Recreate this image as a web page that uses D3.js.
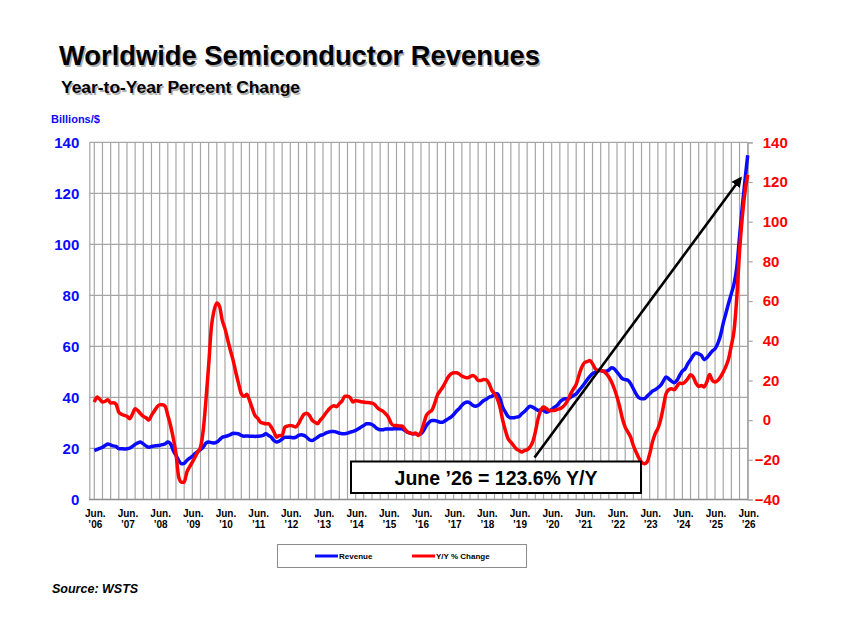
<!DOCTYPE html>
<html>
<head>
<meta charset="utf-8">
<script src="https://cdn.jsdelivr.net/npm/d3@7"></script>
<style>
  body { margin: 0; background: #fff; }
  svg { display: block; font-family: "Liberation Sans", Arial, sans-serif; }
</style>
</head>
<body>
<div id="chart"></div>
<script>
// Monthly series, Jun 2006 .. Jun 2026 (241 months)
const revenue = [
  19.2, 19.6, 20.0, 20.5, 21.2, 21.8, 21.4, 21.0, 20.8, 19.9, 19.9, 19.8,
  19.9, 20.1, 20.8, 21.6, 22.2, 22.5, 21.8, 21.0, 20.5, 20.8, 21.0, 21.1,
  21.2, 21.5, 21.8, 22.5, 21.8, 19.2, 17.3, 15.3, 14.0, 14.2, 15.3, 16.2,
  16.9, 18.0, 18.8, 19.5, 20.5, 22.1, 22.5, 22.3, 22.1, 22.5, 23.4, 24.4,
  24.7, 25.0, 25.4, 26.0, 25.9, 25.7, 25.1, 24.8, 24.9, 24.8, 24.8, 24.7,
  24.8, 24.9, 25.1, 25.8, 25.1, 24.4, 23.1, 22.5, 22.9, 23.7, 24.4, 24.4,
  24.4, 24.2, 24.4, 25.1, 25.4, 25.1, 24.4, 23.4, 23.1, 23.7, 24.4, 25.1,
  25.4, 26.0, 26.4, 26.7, 26.7, 26.4, 26.0, 25.8, 25.8, 26.0, 26.4, 26.7,
  27.1, 27.7, 28.4, 29.0, 29.7, 29.7, 29.4, 28.6, 27.7, 27.3, 27.3, 27.6,
  27.6, 27.6, 27.7, 27.7, 27.7, 27.7, 27.1, 26.4, 26.0, 25.8, 25.8, 25.5,
  25.8, 27.1, 29.0, 30.3, 31.0, 31.0, 30.7, 30.3, 30.3, 31.0, 31.6, 32.3,
  33.3, 34.6, 35.6, 36.9, 37.8, 38.2, 37.8, 36.9, 36.5, 36.9, 37.8, 38.8,
  39.3, 40.1, 40.4, 41.4, 41.4, 39.5, 36.2, 34.2, 32.5, 32.0, 32.0, 32.3,
  32.5, 33.6, 34.5, 35.6, 36.5, 36.2, 35.6, 34.9, 35.2, 34.9, 34.2, 34.6,
  35.3, 36.2, 36.9, 38.2, 39.1, 39.5, 39.5, 40.1, 40.8, 41.4, 42.7, 44.0,
  45.4, 46.9, 48.2, 49.3, 49.9, 50.6, 50.6, 50.3, 50.3, 50.8, 51.6, 51.2,
  49.9, 48.6, 47.3, 47.0, 46.7, 45.4, 43.4, 41.4, 39.9, 39.5, 39.5, 40.4,
  41.4, 42.5, 43.0, 43.8, 44.7, 46.4, 48.0, 47.3, 46.4, 45.8, 46.7, 48.6,
  50.3, 51.2, 53.2, 54.8, 56.5, 57.4, 57.1, 56.5, 54.8, 55.6, 56.9, 58.2,
  59.1, 61.1, 64.3, 69.0, 73.0, 77.0, 80.7, 84.6, 91.1, 102.9, 114.6, 125.1,
  134.9
];

const yoyChange = [
  9.1, 11.6, 10.5, 9.1, 9.5, 10.3, 8.6, 8.8, 8.0, 4.0, 3.0, 2.4,
  1.9, 0.7, 3.0, 5.7, 4.8, 3.2, 1.9, 1.2, 0.0, 2.4, 4.5, 6.6,
  7.8, 7.8, 7.0, 2.4, -2.7, -9.0, -17.0, -28.7, -31.3, -31.3, -26.2, -23.5,
  -21.2, -18.7, -16.0, -13.6, -5.2, 9.9, 27.6, 46.9, 55.3, 59.0, 57.3, 50.3,
  46.1, 40.5, 35.1, 30.1, 24.0, 18.4, 13.3, 12.0, 13.0, 10.0, 6.0, 2.4,
  1.0, -1.0, -1.5, -1.8, -1.8, -3.5, -6.0, -8.6, -7.7, -7.7, -3.5, -3.0,
  -2.7, -3.0, -3.5, -1.8, 0.7, 2.9, 3.5, 2.4, 0.0, -1.0, -1.8, 0.0,
  1.5, 3.5, 5.2, 6.6, 7.3, 6.8, 8.3, 9.6, 12.0, 12.0, 11.3, 9.1,
  9.9, 9.6, 9.3, 9.1, 8.9, 8.8, 8.6, 7.9, 6.2, 5.2, 4.5, 3.2,
  1.5, -1.5, -2.7, -2.7, -3.0, -3.0, -4.4, -6.0, -6.5, -6.9, -6.5, -7.7,
  -6.0, -1.8, 2.4, 4.0, 5.0, 8.3, 12.5, 14.7, 16.7, 19.2, 21.7, 23.3,
  23.9, 23.9, 23.3, 22.2, 21.7, 21.3, 21.9, 22.5, 21.7, 20.0, 20.0, 20.5,
  20.3, 18.4, 15.0, 13.3, 10.8, 6.6, 0.0, -5.2, -9.4, -11.1, -12.8, -14.5,
  -15.3, -16.1, -15.3, -14.9, -13.6, -11.1, -6.0, 0.7, 4.9, 6.6, 5.8, 4.9,
  4.9, 4.9, 5.4, 5.8, 6.6, 8.0, 10.3, 13.3, 15.7, 18.0, 22.5, 26.5,
  28.9, 29.5, 30.0, 28.4, 25.9, 25.0, 25.0, 24.7, 23.4, 21.7, 19.2, 15.8,
  11.6, 6.6, 0.7, -3.5, -6.0, -8.6, -12.8, -16.1, -19.0, -21.2, -22.0, -21.2,
  -17.0, -11.1, -6.9, -4.3, 0.0, 6.6, 13.3, 15.3, 15.8, 15.3, 17.0, 18.7,
  18.4, 19.2, 20.9, 22.9, 21.7, 18.7, 17.0, 17.5, 16.7, 19.2, 23.0, 20.0,
  19.2, 20.0, 21.7, 24.2, 27.1, 31.0, 37.7, 45.2, 62.0, 85.0, 102.0, 115.0,
  123.6
];

// X tick labels (one per June)
const yearLabels = ["’06", "’07", "’08", "’09", "’10", "’11", "’12", "’13", "’14", "’15", "’16",
                    "’17", "’18", "’19", "’20", "’21", "’22", "’23", "’24", "’25", "’26"];
const leftTicks = [0, 20, 40, 60, 80, 100, 120, 140];
const rightTicks = [-40, -20, 0, 20, 40, 60, 80, 100, 120, 140];
const seriesNames = ["Revenue", "Y/Y % Change"];
const calloutText = "June ’26 = 123.6% Y/Y";
// arrow from / to in [month index, Y/Y %]
const arrowFrom = [161.7, -18.8];
const arrowTo = [237.4, 121.9];

const W = 864, H = 641;
const blue = "#0a0aff", red = "#ff0000", grid = "#a6a6a6";

const svg = d3.select("#chart").append("svg")
  .attr("width", W).attr("height", H);

// Scales
const x = d3.scaleLinear().domain([0, revenue.length - 1]).range([94.3, 747.7]);
const yL = d3.scaleLinear().domain([0, 140]).range([499.5, 142.3]);
const yR = d3.scaleLinear().domain([-40, 140]).range([499.5, 142.3]);
const axisLeftX = 89.3, axisRightX = 747.7;

// Title block with soft shadow
function titleText(txt, xPos, yPos, size, len) {
  svg.append("text").attr("x", xPos + 1.5).attr("y", yPos + 1.5)
    .attr("font-size", size).attr("font-weight", "bold").attr("fill", "#b0b0b0")
    .attr("textLength", len).attr("lengthAdjust", "spacingAndGlyphs").text(txt);
  svg.append("text").attr("x", xPos).attr("y", yPos)
    .attr("font-size", size).attr("font-weight", "bold").attr("fill", "#000")
    .attr("textLength", len).attr("lengthAdjust", "spacingAndGlyphs").text(txt);
}
titleText("Worldwide Semiconductor Revenues", 59, 65, 28, 481);
titleText("Year-to-Year Percent Change", 61, 93, 16, 239);

svg.append("text").attr("x", 51).attr("y", 123)
  .attr("font-size", 11).attr("font-weight", "bold").attr("fill", blue)
  .text("Billions/$");

// Horizontal gridlines (left axis values)
svg.append("g").selectAll("line").data(leftTicks).join("line")
  .attr("x1", axisLeftX).attr("x2", axisRightX)
  .attr("y1", d => yL(d)).attr("y2", d => yL(d))
  .attr("stroke", grid).attr("stroke-width", 1.2);

// Vertical gridlines every quarter
svg.append("g").selectAll("line").data(d3.range(0, revenue.length, 3)).join("line")
  .attr("x1", d => x(d)).attr("x2", d => x(d))
  .attr("y1", yL(140)).attr("y2", yL(0))
  .attr("stroke", grid).attr("stroke-width", 1.2);

// Left axis
const gL = svg.append("g").attr("transform", `translate(${axisLeftX},0)`)
  .call(d3.axisLeft(yL).tickValues(leftTicks).tickSize(0).tickPadding(10));
gL.select(".domain").attr("stroke", grid).attr("stroke-width", 1.2);
gL.selectAll("text").attr("fill", blue).attr("font-size", 15).attr("font-weight", "bold")
  .attr("font-family", "Liberation Sans, Arial, sans-serif");

// Right axis
const gR = svg.append("g").attr("transform", `translate(${axisRightX},0)`)
  .call(d3.axisRight(yR).tickValues(rightTicks).tickSize(5).tickPadding(10));
gR.select(".domain").attr("stroke", grid).attr("stroke-width", 1.2);
gR.selectAll(".tick line").attr("stroke", grid).attr("stroke-width", 1.2);
gR.selectAll("text").attr("fill", red).attr("font-size", 15).attr("font-weight", "bold")
  .attr("font-family", "Liberation Sans, Arial, sans-serif")
  .attr("dx", d => d < 0 ? -8 : 0);

// Bottom axis line
svg.append("line").attr("x1", axisLeftX).attr("x2", axisRightX)
  .attr("y1", yL(0)).attr("y2", yL(0)).attr("stroke", "#8c8c8c").attr("stroke-width", 1.5);

// X tick labels (two lines)
const xl = svg.append("g").selectAll("g").data(yearLabels).join("g")
  .attr("transform", (d, i) => `translate(${x(i * 12) + 1},0)`);
xl.append("text").attr("y", 516.5).attr("text-anchor", "middle")
  .attr("font-size", 10).attr("font-weight", "bold").text("Jun.");
xl.append("text").attr("y", 528).attr("text-anchor", "middle")
  .attr("font-size", 10).attr("font-weight", "bold").text(d => d);

// Lines
const lineL = d3.line().x((d, i) => x(i)).y(d => yL(d)).curve(d3.curveMonotoneX);
const lineR = d3.line().x((d, i) => x(i)).y(d => yR(d)).curve(d3.curveMonotoneX);
svg.append("path").datum(revenue).attr("d", lineL)
  .attr("fill", "none").attr("stroke", blue).attr("stroke-width", 3.5)
  .attr("stroke-linejoin", "round");
svg.append("path").datum(yoyChange).attr("d", lineR)
  .attr("fill", "none").attr("stroke", red).attr("stroke-width", 3.5)
  .attr("stroke-linejoin", "round");

// Arrow annotation
svg.append("defs").append("marker")
  .attr("id", "head").attr("viewBox", "0 0 10 10").attr("refX", 8).attr("refY", 5)
  .attr("markerWidth", 4).attr("markerHeight", 4).attr("orient", "auto")
  .append("path").attr("d", "M0,0 L10,5 L0,10 z").attr("fill", "#000");
svg.append("line")
  .attr("x1", x(arrowFrom[0])).attr("y1", yR(arrowFrom[1]))
  .attr("x2", x(arrowTo[0])).attr("y2", yR(arrowTo[1]))
  .attr("stroke", "#000").attr("stroke-width", 2.6).attr("marker-end", "url(#head)");

// Callout box
svg.append("rect").attr("x", 351).attr("y", 461.5).attr("width", 290).attr("height", 31.5)
  .attr("fill", "#fff").attr("stroke", "#000").attr("stroke-width", 2);
svg.append("text").attr("x", 496).attr("y", 484.5).attr("text-anchor", "middle")
  .attr("font-size", 19.5).attr("font-weight", "bold").text(calloutText);

// Legend
svg.append("rect").attr("x", 277.5).attr("y", 544.5).attr("width", 249).attr("height", 23)
  .attr("fill", "#fff").attr("stroke", "#8c8c8c").attr("stroke-width", 1);
const legendX = [315, 412];
const lg = svg.append("g").selectAll("g").data(seriesNames).join("g")
  .attr("transform", (d, i) => `translate(${legendX[i]},556)`);
lg.append("line").attr("x1", 0).attr("x2", 23)
  .attr("stroke", (d, i) => i === 0 ? blue : red).attr("stroke-width", 3);
lg.append("text").attr("x", 24).attr("y", 3).attr("font-size", 8).attr("font-weight", "bold")
  .text(d => d);

// Source
svg.append("text").attr("x", 52).attr("y", 593)
  .attr("font-size", 12.5).attr("font-weight", "bold").attr("font-style", "italic")
  .text("Source: WSTS");
</script>
</body>
</html>
